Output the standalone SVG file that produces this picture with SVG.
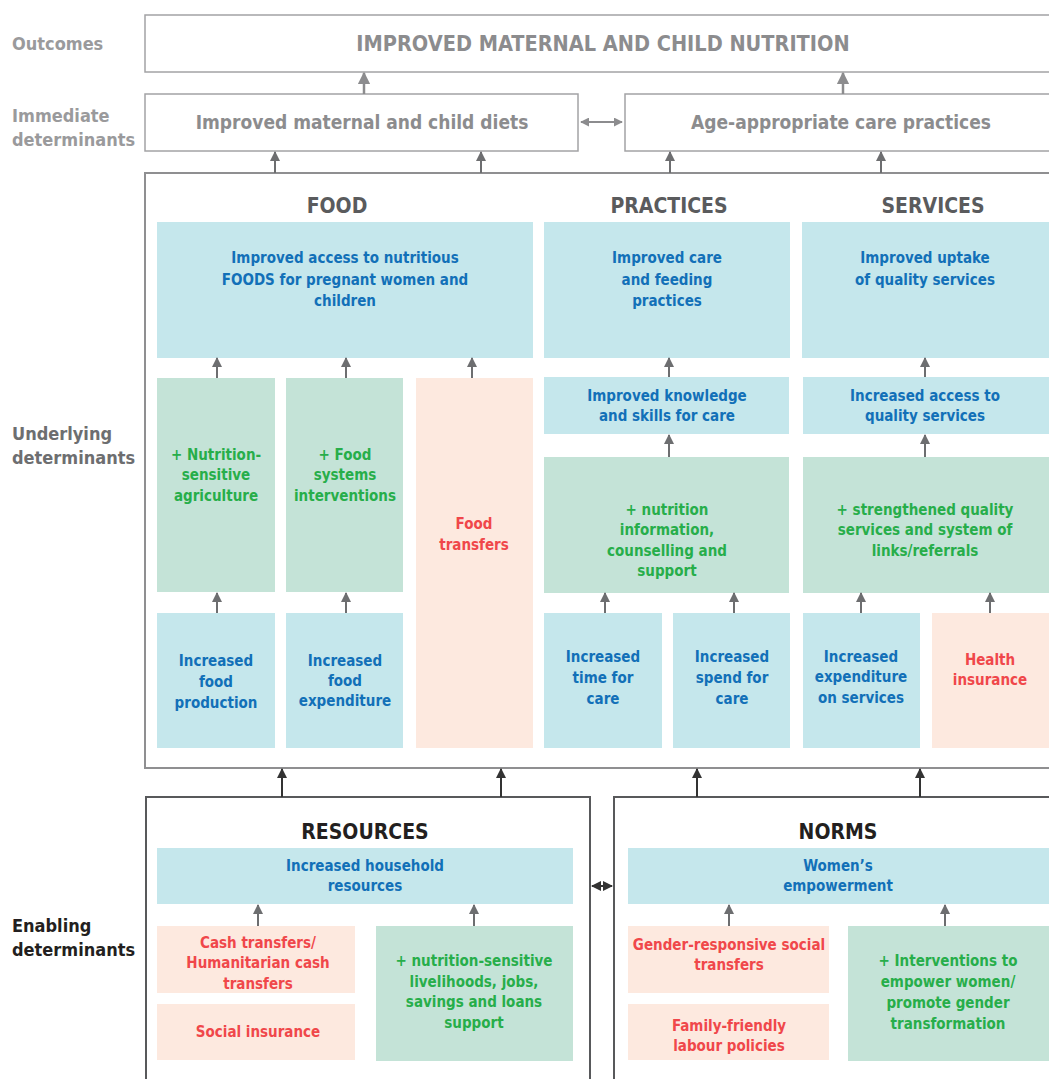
<svg xmlns="http://www.w3.org/2000/svg" width="1049" height="1079" viewBox="0 0 1049 1079">
<style>
text{font-family:"Liberation Sans Narrow","DejaVu Sans Condensed","Liberation Sans",sans-serif;font-weight:bold;text-anchor:middle}
.lbl{text-anchor:start;font-size:18px}
.b{fill:#c5e7ec}.g{fill:#c4e3d7}.p{fill:#fde9df}
.tb{fill:#1270b8;font-size:15px}.tg{fill:#27ae4a;font-size:15px}.tr{fill:#f0474a;font-size:15px}
.hd{fill:#5a5b5d;font-size:21px}.hk{fill:#231f20;font-size:21px}
.top{fill:#8c8c8e}
.frame{fill:#fff;stroke:#a3a3a5;stroke-width:1.5}
.a1{stroke:#6d6e70;stroke-width:2;fill:none}
.a2{stroke:#333;stroke-width:2;fill:none}
.a3{stroke:#8c8c8e;stroke-width:2.5;fill:none}
.a4{stroke:#8c8c8e;stroke-width:1.8;fill:none}
</style>
<defs>
<marker id="m1" viewBox="0 0 10 10" refX="9" refY="5" markerWidth="5" markerHeight="5" orient="auto-start-reverse"><path d="M0,0L10,5L0,10z" fill="#6d6e70"/></marker>
<marker id="m2" viewBox="0 0 10 10" refX="9" refY="5" markerWidth="5" markerHeight="5" orient="auto-start-reverse"><path d="M0,0L10,5L0,10z" fill="#333"/></marker>
<marker id="m3" viewBox="0 0 10 10" refX="9" refY="5" markerWidth="5" markerHeight="5" orient="auto-start-reverse"><path d="M0,0L10,5L0,10z" fill="#8c8c8e"/></marker>
</defs>
<rect width="1049" height="1079" fill="#fff"/>

<g id="labels">
<text class="lbl" x="12" y="50" fill="#9a9a9c">Outcomes</text>
<text class="lbl" x="12" y="122" fill="#9a9a9c">Immediate</text>
<text class="lbl" x="12" y="146" fill="#9a9a9c">determinants</text>
<text class="lbl" x="12" y="440" fill="#6d6e70">Underlying</text>
<text class="lbl" x="12" y="464" fill="#6d6e70">determinants</text>
<text class="lbl" x="12" y="932" fill="#231f20">Enabling</text>
<text class="lbl" x="12" y="956" fill="#231f20">determinants</text>
</g>

<g id="outcome">
<rect class="frame" x="145" y="15" width="910" height="57"/>
<text class="top" x="603" y="51" font-size="21.5">IMPROVED MATERNAL AND CHILD NUTRITION</text>
</g>
<g id="diets">
<rect class="frame" x="145" y="94" width="433" height="57"/>
<text class="top" x="362" y="129" font-size="19">Improved maternal and child diets</text>
</g>
<g id="care">
<rect class="frame" x="625" y="94" width="430" height="57"/>
<text class="top" x="841" y="129" font-size="19">Age-appropriate care practices</text>
</g>

<g id="underlying">
<rect x="145" y="173" width="910" height="595" fill="#fff" stroke="#8f8f91" stroke-width="2"/>
<text class="hd" x="337" y="213">FOOD</text>
<text class="hd" x="669" y="213">PRACTICES</text>
<text class="hd" x="933" y="213">SERVICES</text>
</g>

<g id="food-top"><rect class="b" x="157" y="222" width="376" height="136"/>
<text class="tb" x="345" y="263">Improved access to nutritious</text>
<text class="tb" x="345" y="285">FOODS for pregnant women and</text>
<text class="tb" x="345" y="306">children</text></g>
<g id="practices-top"><rect class="b" x="544" y="222" width="246" height="136"/>
<text class="tb" x="667" y="263">Improved care</text>
<text class="tb" x="667" y="285">and feeding</text>
<text class="tb" x="667" y="306">practices</text></g>
<g id="services-top"><rect class="b" x="802" y="222" width="253" height="136"/>
<text class="tb" x="925" y="263">Improved uptake</text>
<text class="tb" x="925" y="285">of quality services</text></g>

<g id="nsa"><rect class="g" x="157" y="378" width="118" height="214"/>
<text class="tg" x="216" y="460">+ Nutrition-</text>
<text class="tg" x="216" y="480">sensitive</text>
<text class="tg" x="216" y="501">agriculture</text></g>
<g id="fsi"><rect class="g" x="286" y="378" width="117" height="214"/>
<text class="tg" x="345" y="460">+ Food</text>
<text class="tg" x="345" y="480">systems</text>
<text class="tg" x="345" y="501">interventions</text></g>
<g id="foodtransfers"><rect class="p" x="416" y="378" width="117" height="370"/>
<text class="tr" x="474" y="529">Food</text>
<text class="tr" x="474" y="550">transfers</text></g>
<g id="knowledge"><rect class="b" x="544" y="377" width="245" height="57"/>
<text class="tb" x="667" y="401">Improved knowledge</text>
<text class="tb" x="667" y="421">and skills for care</text></g>
<g id="access"><rect class="b" x="803" y="377" width="252" height="57"/>
<text class="tb" x="925" y="401">Increased access to</text>
<text class="tb" x="925" y="421">quality services</text></g>
<g id="counselling"><rect class="g" x="544" y="457" width="245" height="136"/>
<text class="tg" x="667" y="515">+ nutrition</text>
<text class="tg" x="667" y="535">information,</text>
<text class="tg" x="667" y="556">counselling and</text>
<text class="tg" x="667" y="576">support</text></g>
<g id="strengthened"><rect class="g" x="803" y="457" width="252" height="136"/>
<text class="tg" x="925" y="515">+ strengthened quality</text>
<text class="tg" x="925" y="535">services and system of</text>
<text class="tg" x="925" y="556">links/referrals</text></g>

<g id="foodprod"><rect class="b" x="157" y="613" width="118" height="135"/>
<text class="tb" x="216" y="666">Increased</text>
<text class="tb" x="216" y="687">food</text>
<text class="tb" x="216" y="708">production</text></g>
<g id="foodexp"><rect class="b" x="286" y="613" width="117" height="135"/>
<text class="tb" x="345" y="666">Increased</text>
<text class="tb" x="345" y="686">food</text>
<text class="tb" x="345" y="706">expenditure</text></g>
<g id="time"><rect class="b" x="544" y="613" width="118" height="135"/>
<text class="tb" x="603" y="662">Increased</text>
<text class="tb" x="603" y="683">time for</text>
<text class="tb" x="603" y="704">care</text></g>
<g id="spend"><rect class="b" x="673" y="613" width="117" height="135"/>
<text class="tb" x="732" y="662">Increased</text>
<text class="tb" x="732" y="683">spend for</text>
<text class="tb" x="732" y="704">care</text></g>
<g id="svcexp"><rect class="b" x="803" y="613" width="117" height="135"/>
<text class="tb" x="861" y="662">Increased</text>
<text class="tb" x="861" y="682">expenditure</text>
<text class="tb" x="861" y="703">on services</text></g>
<g id="health"><rect class="p" x="932" y="613" width="123" height="135"/>
<text class="tr" x="990" y="665">Health</text>
<text class="tr" x="990" y="685">insurance</text></g>

<g id="resources">
<rect x="146" y="797" width="444" height="290" fill="#fff" stroke="#58595b" stroke-width="2"/>
<text class="hk" x="365" y="839">RESOURCES</text>
</g>
<g id="norms">
<rect x="614" y="797" width="450" height="290" fill="#fff" stroke="#58595b" stroke-width="2"/>
<text class="hk" x="838" y="839">NORMS</text>
</g>
<g id="household"><rect class="b" x="157" y="848" width="416" height="56"/>
<text class="tb" x="365" y="871">Increased household</text>
<text class="tb" x="365" y="891">resources</text></g>
<g id="women"><rect class="b" x="628" y="848" width="427" height="56"/>
<text class="tb" x="838" y="871">Women’s</text>
<text class="tb" x="838" y="891">empowerment</text></g>
<g id="cash"><rect class="p" x="157" y="926" width="198" height="67"/>
<text class="tr" x="258" y="948">Cash transfers/</text>
<text class="tr" x="258" y="968">Humanitarian cash</text>
<text class="tr" x="258" y="989">transfers</text></g>
<g id="socins"><rect class="p" x="157" y="1004" width="198" height="56"/>
<text class="tr" x="258" y="1037">Social insurance</text></g>
<g id="livelihoods"><rect class="g" x="376" y="926" width="197" height="135"/>
<text class="tg" x="474" y="966">+ nutrition-sensitive</text>
<text class="tg" x="474" y="987">livelihoods, jobs,</text>
<text class="tg" x="474" y="1007">savings and loans</text>
<text class="tg" x="474" y="1028">support</text></g>
<g id="gender"><rect class="p" x="628" y="926" width="201" height="67"/>
<text class="tr" x="729" y="950">Gender-responsive social</text>
<text class="tr" x="729" y="970">transfers</text></g>
<g id="family"><rect class="p" x="628" y="1004" width="201" height="56"/>
<text class="tr" x="729" y="1031">Family-friendly</text>
<text class="tr" x="729" y="1051">labour policies</text></g>
<g id="empower"><rect class="g" x="848" y="926" width="207" height="135"/>
<text class="tg" x="948" y="966">+ Interventions to</text>
<text class="tg" x="948" y="987">empower women/</text>
<text class="tg" x="948" y="1008">promote gender</text>
<text class="tg" x="948" y="1029">transformation</text></g>

<g id="connectors">
<path class="a3" d="M364 94V73" marker-end="url(#m3)"/>
<path class="a3" d="M843 94V73" marker-end="url(#m3)"/>
<path class="a4" d="M581 122H622" marker-start="url(#m3)" marker-end="url(#m3)"/>
<path class="a1" d="M275 173V152" marker-end="url(#m1)"/>
<path class="a1" d="M481 173V152" marker-end="url(#m1)"/>
<path class="a1" d="M670 173V152" marker-end="url(#m1)"/>
<path class="a1" d="M881 173V152" marker-end="url(#m1)"/>
<path class="a1" d="M217 378V358" marker-end="url(#m1)"/>
<path class="a1" d="M346 378V358" marker-end="url(#m1)"/>
<path class="a1" d="M472 378V358" marker-end="url(#m1)"/>
<path class="a1" d="M669 377V358" marker-end="url(#m1)"/>
<path class="a1" d="M925 377V358" marker-end="url(#m1)"/>
<path class="a1" d="M669 457V435" marker-end="url(#m1)"/>
<path class="a1" d="M925 457V435" marker-end="url(#m1)"/>
<path class="a1" d="M217 613V593" marker-end="url(#m1)"/>
<path class="a1" d="M346 613V593" marker-end="url(#m1)"/>
<path class="a1" d="M605 613V593" marker-end="url(#m1)"/>
<path class="a1" d="M734 613V593" marker-end="url(#m1)"/>
<path class="a1" d="M861 613V593" marker-end="url(#m1)"/>
<path class="a1" d="M990 613V593" marker-end="url(#m1)"/>
<path class="a2" d="M282 797V769" marker-end="url(#m2)"/>
<path class="a2" d="M501 797V769" marker-end="url(#m2)"/>
<path class="a2" d="M697 797V769" marker-end="url(#m2)"/>
<path class="a2" d="M920 797V769" marker-end="url(#m2)"/>
<path class="a2" d="M592 886H612" marker-start="url(#m2)" marker-end="url(#m2)"/>
<path class="a1" d="M258 926V905" marker-end="url(#m1)"/>
<path class="a1" d="M474 926V905" marker-end="url(#m1)"/>
<path class="a1" d="M729 926V905" marker-end="url(#m1)"/>
<path class="a1" d="M945 926V905" marker-end="url(#m1)"/>
</g>
</svg>
